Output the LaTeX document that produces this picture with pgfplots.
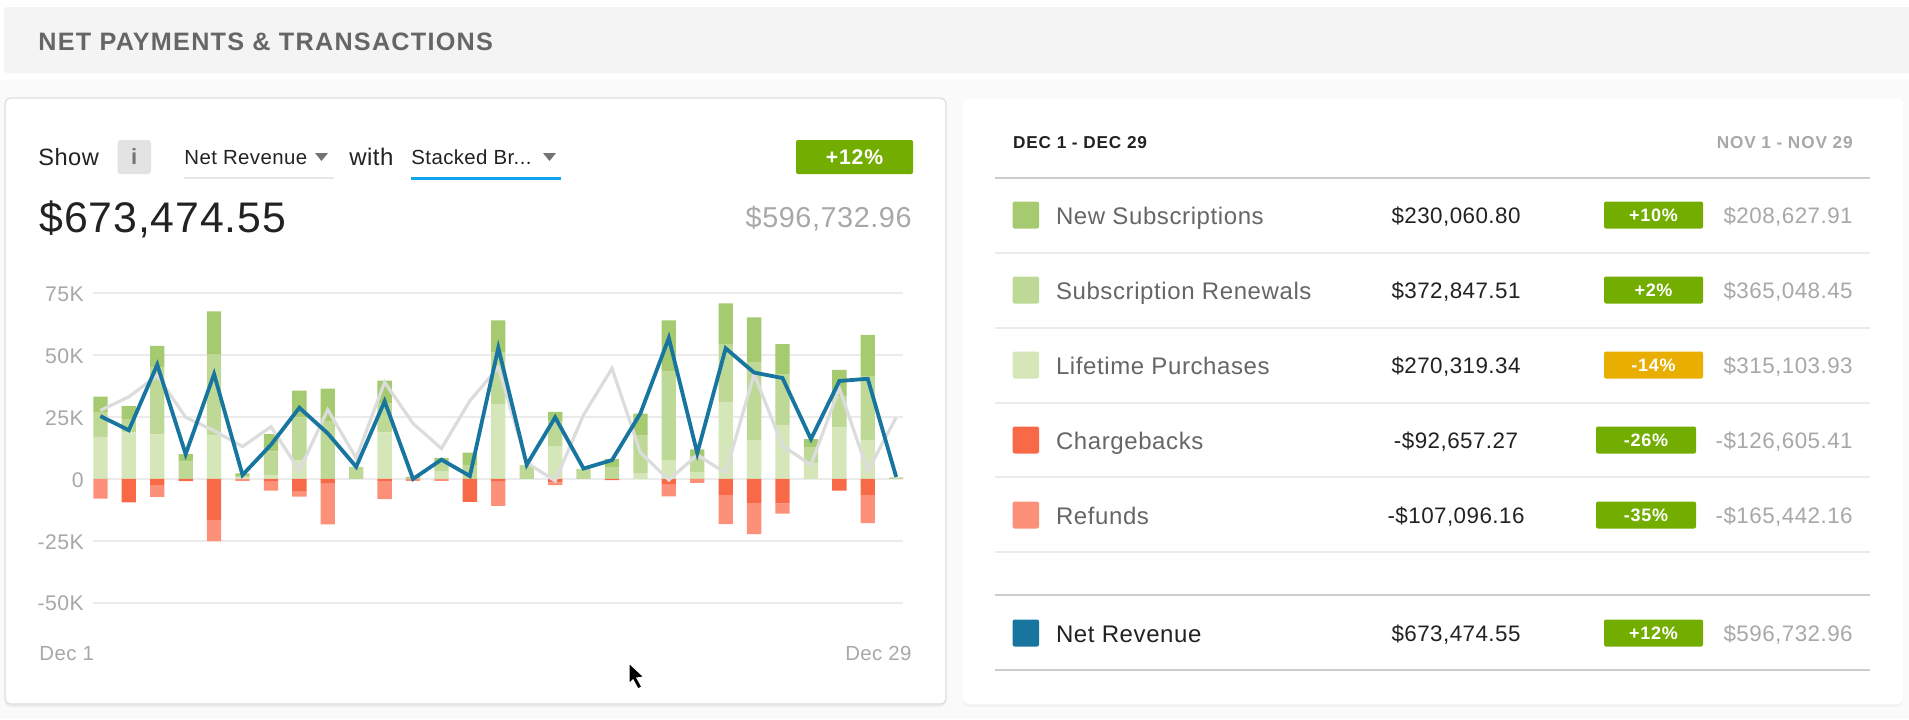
\documentclass[border=0pt]{standalone}
\usepackage{fontspec}
\setmainfont{Liberation Sans}
\usepackage{pgfplots}
\usepackage{pgfplotstable}
\pgfplotsset{compat=1.18}
\usetikzlibrary{shadows}

\definecolor{cNew}{HTML}{A6CA70}
\definecolor{cRenew}{HTML}{BED995}
\definecolor{cLife}{HTML}{D5E6B8}
\definecolor{cBack}{HTML}{F86A47}
\definecolor{cRefund}{HTML}{FC9079}
\definecolor{cNet}{HTML}{17759F}
\definecolor{cPrev}{HTML}{DCDCDC}
\definecolor{cBadge}{HTML}{72AD00}
\definecolor{cWarn}{HTML}{E8AE00}
\definecolor{cText}{HTML}{222222}
\definecolor{cMid}{HTML}{666666}
\definecolor{cPale}{HTML}{A8A8A8}

\pgfplotstableread{
day life renew new back refund net prev
0  17.0 10.1  6.2  0.0  -8.0 25.4 27.7
1  18.8  5.5  5.1 -9.5   0.0 19.7 33.2
2  18.0 27.0  8.8 -2.7  -4.6 46.2 41.8
3   0.0  7.0  3.0 -0.9   0.0 10.0 24.9
4  17.6 32.7 17.4 -16.6 -8.5 42.4 19.5
5   0.8  0.4  1.1  0.0  -0.8  1.6 13.1
6   1.6  9.5  7.0 -1.1  -3.6 13.8 21.1
7   7.6 17.3 10.8 -5.1  -2.0 28.8  3.5
8   0.0 23.5 13.0 -1.9 -16.5 18.4 28.0
9   0.0  4.9  0.0  0.0   0.0  4.9  8.4
10 18.8 11.6  9.3 -0.8  -7.4 31.4 39.1
11  0.0  0.4  0.4  0.0  -0.8  0.0 22.4
12  3.0  3.6  1.8  0.0  -0.8  7.8 12.3
13  0.0  5.7  4.9 -9.3   0.0  1.2 31.6
14 30.3 20.8 13.0 -0.9 -10.0 53.0 45.1
15  0.0  5.2  0.3  0.0   0.0  5.7  6.6
16 13.1 10.4  3.6 -1.4  -1.1 24.9 -0.8
17  0.0  4.1  0.0  0.0   0.0  4.2 25.9
18  0.0  4.9  3.2 -0.5   0.0  7.6 44.7
19  2.4 15.1  8.9  0.0   0.0 26.5 10.7
20  7.7 35.7 20.7 -2.3  -4.7 57.0 -0.4
21  2.8  6.5  2.7 -0.1  -1.5 10.4  9.7
22 31.2 23.4 16.4 -6.4 -11.9 52.8  2.4
23 15.8 31.5 18.0 -9.7 -12.6 43.0 42.4
24 21.9 20.3 12.3 -9.9  -4.1 40.8 13.4
25  6.4  6.6  3.1  0.0   0.0 16.1  5.7
26 20.8 12.8 10.5 -4.7   0.0 39.6 36.6
27 15.8 25.9 16.5 -6.4 -11.5 40.5  3.2
28  0.0  0.6  0.0  0.0   0.0  0.8 24.9
}\flow

\pgfplotsset{
  panel/.style={
    at={(46.65pt,-301.3pt)}, anchor=south west,
    scale only axis, width=405pt, height=154.6pt,
    xmin=-0.25, xmax=28.25, ymin=-50, ymax=75,
  },
  barstack/.style={ybar stacked, bar width=7.15pt, bar shift=0pt},
}

% sizes are in page points, one reference pixel is 0.5pt
\newcommand{\fs}[1]{\fontsize{#1}{#1}\selectfont}
\newcommand{\badge}[6]{% x1 x2 ymid colour size text
  \fill[#4, rounded corners=1pt] (#1,#3-13.5) rectangle (#2,#3+13.5);
  \node[text=white, inner sep=0, anchor=base] at ({(#1+#2)/2},#3+6.5) {\fs{#5}\bfseries\addfontfeatures{LetterSpace=4}#6};
}
\newcommand{\row}[9]{% ymid colour label labelcolour value badgex1 badgex2 badgecolour badgetext
  \fill[#2, rounded corners=1pt] (1012.7,#1-13.5) rectangle (1039,#1+13.5);
  \node[anchor=base west, inner sep=0, text=#4] at (1055.6,#1+9) {\fs{12}\addfontfeatures{LetterSpace=2.5}#3};
  \node[anchor=base, inner sep=0, text=cText] at (1456,#1+8.5) {\fs{11.2}\addfontfeatures{LetterSpace=2}#5};
  \badge{#6}{#7}{#1}{#8}{9}{#9}
}

\begin{document}
\begin{tikzpicture}
  \begin{scope}[x=0.5pt, y=-0.5pt]
  \useasboundingbox (0,0) rectangle (1909,719);
  \fill[black!2] (0,0) rectangle (1909,719);
  \fill[white] (0,0) rectangle (1909,80);
  \fill[black!4.5, rounded corners=1.5pt] (4,7) rectangle (1915,73);
  \node[anchor=base west, inner sep=0, text=cMid] at (38,50) {\fs{12.6}\bfseries\addfontfeatures{LetterSpace=5}NET PAYMENTS \& TRANSACTIONS};

  % cards
  \fill[white, rounded corners=3pt, draw=black!13, line width=0.6pt, drop shadow={opacity=0.1, shadow xshift=0pt, shadow yshift=-1.5pt}]
    (5,98) rectangle (946,704);
  \fill[white, rounded corners=3pt, drop shadow={opacity=0.05, shadow xshift=0pt, shadow yshift=-1.5pt}]
    (963,98) rectangle (1903,704);

  % controls of the left card
  \node[anchor=base west, inner sep=0, text=cText] at (38,165) {\fs{11.8}\addfontfeatures{LetterSpace=2}Show};
  \fill[black!11, rounded corners=1.5pt] (117.5,140) rectangle (151,174);
  \node[anchor=base, inner sep=0, text=black!55] at (134.2,164) {\fs{11}\bfseries i};
  \node[anchor=base west, inner sep=0, text=cText] at (184,164.5) {\fs{10.2}\addfontfeatures{LetterSpace=2}Net Revenue};
  \fill[black!55] (315,153) -- (328,153) -- (321.5,161) -- cycle;
  \draw[black!9, line width=1pt] (184,178) -- (334,178);
  \node[anchor=base west, inner sep=0, text=cText] at (349,165) {\fs{12}\addfontfeatures{LetterSpace=2}with};
  \node[anchor=base west, inner sep=0, text=cText] at (411,164.5) {\fs{10.2}\addfontfeatures{LetterSpace=2}Stacked Br...};
  \fill[black!55] (543,153) -- (556,153) -- (549.5,161) -- cycle;
  \draw[color={rgb,255:red,14;green,165;blue,239}, line width=1.5pt] (411,178) -- (561,178);
  \fill[cBadge, rounded corners=1pt] (796,140) rectangle (913,174);
  \node[anchor=base, inner sep=0, text=white] at (854.5,164.5) {\fs{10.6}\bfseries\addfontfeatures{LetterSpace=4}+12\%};
  \node[anchor=base west, inner sep=0, text=cText] at (39,232) {\fs{21.4}\addfontfeatures{LetterSpace=2}\$673,474.55};
  \node[anchor=base east, inner sep=0, text=cPale] at (912,227) {\fs{14.4}\addfontfeatures{LetterSpace=2}\$596,732.96};
  \end{scope}

  % positive stack with the axis and its grid
  \begin{axis}[
      panel, barstack,
      axis line style={draw=none}, tick style={draw=none},
      xtick=\empty,
      ytick={-50,-25,0,25,50,75},
      yticklabels={-50K,-25K,0,25K,50K,75K},
      yticklabel style={anchor=east, inner sep=0pt, xshift=-4.6pt, yshift=-0.5pt, text=cPale, font=\fs{10.6}\addfontfeatures{LetterSpace=2}},
      ymajorgrids, grid style={color=black!8, line width=1pt},
    ]
    \addplot[fill=cLife, draw=none] table[x=day, y=life] {\flow};
    \addplot[fill=cRenew, draw=none] table[x=day, y=renew] {\flow};
    \addplot[fill=cNew, draw=none] table[x=day, y=new] {\flow};
  \end{axis}
  % negative stack
  \begin{axis}[panel, barstack, hide axis]
    \addplot[fill=cBack, draw=none] table[x=day, y=back] {\flow};
    \addplot[fill=cRefund, draw=none] table[x=day, y=refund] {\flow};
  \end{axis}
  % lines
  \begin{axis}[panel, hide axis]
    \addplot[cPrev, line width=1.6pt, no marks] table[x=day, y=prev] {\flow};
    \addplot[cNet, line width=1.9pt, no marks] table[x=day, y=net] {\flow};
  \end{axis}

  \begin{scope}[x=0.5pt, y=-0.5pt]
  \node[anchor=base west, inner sep=0, text=cPale] at (39,660) {\fs{10.2}\addfontfeatures{LetterSpace=2}Dec 1};
  \node[anchor=base east, inner sep=0, text=cPale] at (912,660) {\fs{10.2}\addfontfeatures{LetterSpace=2}Dec 29};

  % table of the right card
  \node[anchor=base west, inner sep=0, text=cText] at (1012.7,148) {\fs{8.6}\bfseries\addfontfeatures{LetterSpace=5}DEC 1 - DEC 29};
  \node[anchor=base east, inner sep=0, text=cPale] at (1853,148) {\fs{8.6}\bfseries\addfontfeatures{LetterSpace=5}NOV 1 - NOV 29};
  \draw[black!20, line width=1pt] (995,178) -- (1870,178);
  \foreach \yy in {252.7,327.7,402.7,477.3,552} \draw[black!8, line width=1pt] (995,\yy) -- (1870,\yy);
  \draw[black!20, line width=1pt] (995,595.3) -- (1870,595.3);
  \draw[black!20, line width=1pt] (995,670.3) -- (1870,670.3);

  \row{215}{cNew}{New Subscriptions}{cMid}{\$230,060.80}{1604}{1703}{cBadge}{+10\%}
  \row{290}{cRenew}{Subscription Renewals}{cMid}{\$372,847.51}{1604}{1703}{cBadge}{+2\%}
  \row{365}{cLife}{Lifetime Purchases}{cMid}{\$270,319.34}{1604}{1703}{cWarn}{-14\%}
  \row{440}{cBack}{Chargebacks}{cMid}{-\$92,657.27}{1596}{1696}{cBadge}{-26\%}
  \row{515}{cRefund}{Refunds}{cMid}{-\$107,096.16}{1596}{1696}{cBadge}{-35\%}
  \row{633}{cNet}{Net Revenue}{cText}{\$673,474.55}{1604}{1703}{cBadge}{+12\%}
  \foreach \yy/\tt in {215/\$208{,}627.91, 290/\$365{,}048.45, 365/\$315{,}103.93, 440/-\$126{,}605.41, 515/-\$165{,}442.16, 633/\$596{,}732.96}
    \node[anchor=base east, inner sep=0, text=cPale] at (1853,\yy+8.5) {\fs{11.2}\addfontfeatures{LetterSpace=2}\tt};

  % pointer
  \fill[black, draw=white, line width=0.6pt] (629,663) -- (644,677) -- (637,678) -- (642,687) -- (638,689) -- (633,680) -- (629,684) -- cycle;
  \end{scope}
\end{tikzpicture}
\end{document}
